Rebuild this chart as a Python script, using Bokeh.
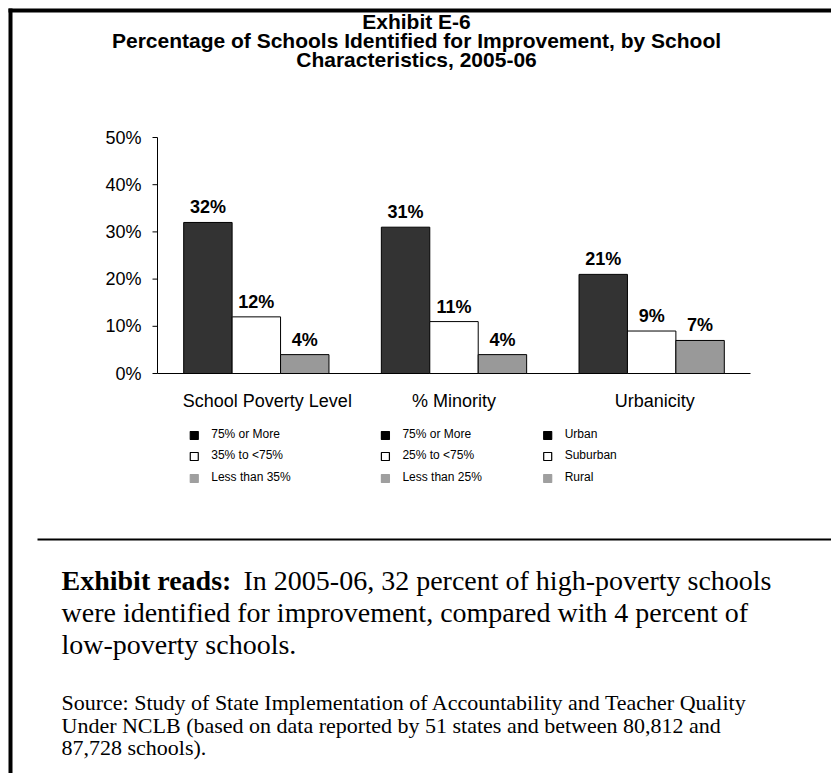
from bokeh.plotting import figure
from bokeh.models import Range1d, ColumnDataSource, LabelSet, Label, BoxAnnotation
from bokeh.core.properties import value
from bokeh.embed import file_html
from bokeh.resources import INLINE

# ---------------- data ----------------
categories = ["School Poverty Level", "% Minority", "Urbanicity"]
high_vals = [32, 31, 21]
mid_vals = [12, 11, 9]
low_vals = [4, 4, 7]
legend_high = ["75% or More", "75% or More", "Urban"]
legend_mid = ["35% to <75%", "25% to <75%", "Suburban"]
legend_low = ["Less than 35%", "Less than 25%", "Rural"]
y_ticks = [0, 10, 20, 30, 40, 50]
y_tick_labels = ["0%", "10%", "20%", "30%", "40%", "50%"]

title_lines = ["Exhibit E-6",
               "Percentage of Schools Identified for Improvement, by School",
               "Characteristics, 2005-06"]
reads_bold = "Exhibit reads:"
reads_lines = ["In 2005-06, 32 percent of high-poverty schools",
               "were identified for improvement, compared with 4 percent of",
               "low-poverty schools."]
source_lines = ["Source:  Study of State Implementation of Accountability and Teacher Quality",
                "Under NCLB (based on data reported by 51 states and between 80,812 and",
                "87,728 schools)."]

# ---------------- layout (pixel geometry of the page) ----------------
W, H = 831, 773
AX_L, AX_R = 157, 750        # x extent of plotting area (px)
Y0, Y50 = 373, 137           # px of 0% and 50%
ppx = (AX_R - AX_L) / 3.0
ppu = (Y0 - Y50) / 50.0

def dx(px):
    return (px - AX_L) / ppx

def dy(py):
    return (Y0 - py) / ppu

p = figure(width=W, height=H, output_backend="svg", toolbar_location=None,
           x_range=Range1d(dx(0), dx(W)), y_range=Range1d(dy(H), dy(0)),
           x_axis_location=None, y_axis_location=None,
           min_border=0)
p.outline_line_color = None
p.grid.visible = False
p.background_fill_color = "white"
p.border_fill_color = "white"

FONT = "Liberation Sans"
SERIF = "Liberation Serif"

xc = [i + 0.5 for i in range(len(categories))]   # category centres on the scale

# ---------------- y axis ----------------
p.segment(x0=[0], y0=[y_ticks[0]], x1=[0], y1=[y_ticks[-1]], line_color="black", line_width=1)
p.segment(x0=[-5 / ppx] * len(y_ticks), y0=y_ticks, x1=[0] * len(y_ticks), y1=y_ticks,
          line_color="black", line_width=1)
p.text(x=[-16 / ppx] * len(y_ticks), y=y_ticks, text=y_tick_labels,
       text_align="right", text_baseline="middle",
       text_font=value(FONT), text_font_size="18px", text_color="black")
# x baseline
p.segment(x0=[0], y0=[0], x1=[len(categories)], y1=[0], line_color="black", line_width=1)

# ---------------- bars ----------------
BW = 0.245
series = [(high_vals, -BW, "#333333"), (mid_vals, 0.0, "#ffffff"), (low_vals, BW, "#999999")]
for vals, off, col in series:
    s = ColumnDataSource(dict(x=[c + off for c in xc], top=vals,
                              t=[f"{v}%" for v in vals]))
    p.vbar(x="x", top="top", bottom=0, width=BW, source=s,
           fill_color=col, line_color="black", line_width=1)
    p.add_layout(LabelSet(x="x", y="top", text="t", source=s, y_offset=5,
                          text_align="center", text_baseline="bottom",
                          text_font=value(FONT), text_font_style="bold",
                          text_font_size="18px", text_color="black"))

# category labels (small horizontal nudges as in the original)
cat_src = ColumnDataSource(dict(x=xc, y=[dy(400)] * 3, t=categories, xo=[11, 0, 3]))
p.text(x="x", y="y", text="t", x_offset="xo", source=cat_src,
       text_align="center", text_baseline="middle",
       text_font=value(FONT), text_font_size="18px", text_color="black")

# ---------------- legend blocks ----------------
marker_off = [-0.314, -0.347, -0.526]
text_gap = 0.086
row_y = [433, 454, 476]
leg_rows = [("#000000", "#000000", legend_high),
            ("#ffffff", "#000000", legend_mid),
            ("#9f9f9f", "#9f9f9f", legend_low)]
for ri, (fc, lc, labels) in enumerate(leg_rows):
    p.scatter(x=[c + o for c, o in zip(xc, marker_off)], y=[dy(row_y[ri] + 2)] * 3,
              marker="square", size=8, fill_color=fc, line_color=lc, line_width=1.2)
    p.text(x=[c + o + text_gap for c, o in zip(xc, marker_off)], y=[dy(row_y[ri])] * 3,
           text=labels, text_align="left", text_baseline="middle",
           text_font=value(FONT), text_font_size="12px", text_color="black")

# ---------------- titles and notes ----------------
def plabel(px, py, text, font=FONT, size="16px", style="normal", align="left",
           baseline="middle"):
    p.add_layout(Label(x=dx(px), y=dy(py), text=text,
                       text_font=font, text_font_size=size, text_font_style=style,
                       text_align=align, text_baseline=baseline, text_color="black"))

for t, yy in zip(title_lines, [21, 40, 59]):
    plabel(416, yy, t, size="21px", style="bold", align="center")

reads_y = [580, 612, 644]
plabel(61, reads_y[0], reads_bold, font=SERIF, size="28px", style="bold")
plabel(243, reads_y[0], reads_lines[0], font=SERIF, size="28px")
plabel(61, reads_y[1], reads_lines[1], font=SERIF, size="28px")
plabel(61, reads_y[2], reads_lines[2], font=SERIF, size="28px")

for t, yy in zip(source_lines, [702, 725, 747]):
    plabel(61, yy, t, font=SERIF, size="22px")

# border lines and separator
for l, r, t, b in [(8, 12, 8, H), (8, W, 8, 12), (37, W, 538, 540)]:
    p.add_layout(BoxAnnotation(left=dx(l), right=dx(r), top=dy(t), bottom=dy(b),
                               fill_color="black", fill_alpha=1, line_color=None))

open("out.html", "w").write(file_html(p, INLINE))
